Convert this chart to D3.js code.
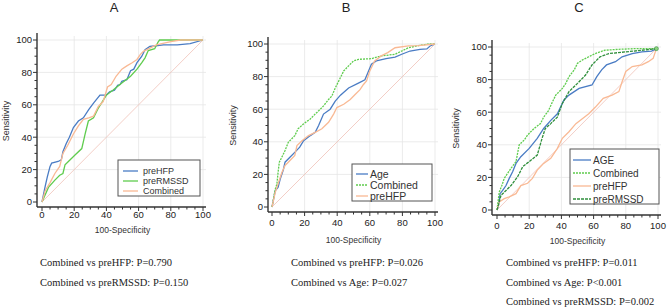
<!DOCTYPE html>
<html lang="en">
<head>
  <meta charset="UTF-8">
  <title>ROC curves A B C</title>
  <style>
  * { margin: 0; padding: 0; }
  body { background: #fff; }
  </style>
  <script src="https://cdnjs.cloudflare.com/ajax/libs/d3/7.8.5/d3.min.js"></script>
</head>
<body>
<svg width="669" height="308" id="svg1"></svg>
<script>
// axis ticks
const majorTicks = [0, 20, 40, 60, 80, 100];
const minorTicks = d3.range(0, 101, 5);

// panel A (100-Specificity, Sensitivity)
const aHFP = [[0,0],[1.9,9.3],[3.3,15.5],[5,22],[6,24],[10,25],[12,26],[13,31],[15,36],[17,40],[19.5,46],[22.6,50],[25.7,52],[29,57],[32,61],[36,66],[40,66],[42,68],[45,69],[47,72],[48.5,72.5],[49.6,74.5],[52.7,75.5],[55,81],[57,82],[59,86],[62,90],[64,94],[67,96],[75.5,97],[84,97],[92,97.7],[100,100]];
const aRMSSD = [[0,0],[4,9],[8,13.5],[11,16.5],[13,17.6],[14.3,23],[16.4,25],[20.5,29],[24.7,33],[26.8,42],[28.8,50],[32,52],[35,58],[40,66],[44,69],[49.6,73.5],[55,77.6],[59,82],[62,86],[64,89],[66,93.5],[70,94.6],[72,98.6],[73,100],[100,100]];
const aCombined = [[0,0],[2,7],[5,12],[8,17.6],[11,22],[13,30],[16,35],[19.5,42],[22.6,47],[25.7,51],[29,52],[32,53],[35,59],[38,62],[40.7,71],[43,72.5],[46,77.6],[49.6,82],[52.7,84],[56,86],[59,88],[61,91],[63,93],[67,95],[71,97],[80,99],[86,100],[100,100]];

// panel B
const bAge = [[0,0],[2,10],[3.7,12],[5,17],[7,23],[8,27.5],[11,30.5],[15,34.6],[17,36.7],[19.4,40.7],[23.5,43.8],[26.5,45.8],[28.6,50],[31.6,57],[35.7,60],[38.8,65],[42,68.6],[47,73],[53,76],[57,78],[61,87.6],[64,89.6],[70,91],[75.5,92],[79.6,93.7],[84.7,95.7],[90.8,96.7],[95,97],[97,98.8],[100,100]];
const bCombined = [[0,0],[2,11],[3,14],[3.7,21],[4.5,27.5],[6,30.5],[8,34.6],[10,39.7],[14,43.8],[16,48],[19.4,51],[23.5,54],[26.5,57],[28.6,59],[31.6,62],[34.7,66],[36.7,68],[38.8,73],[42,79.4],[44,83.5],[47,86.6],[50,89.6],[53,90.6],[61,91],[67,92.7],[75.5,93.7],[79.6,95.7],[83.7,97.7],[89.8,99],[96,100],[100,100]];
const bHFP = [[0,0],[2,9],[4,15],[6,21],[8,25.5],[10,27.5],[14,31.6],[15.3,37.7],[18.4,40.7],[22.4,43.8],[26.5,45.8],[30.6,48],[34.7,52],[37.8,57],[39.8,61],[44,63],[48,66],[51,69],[54,72],[56,75],[58,77.4],[60,83.5],[63,89.6],[67,92.7],[71,94.7],[75.5,97.7],[83.7,98.8],[89.8,99],[100,100]];

// panel C
const cAge = [[0,0],[1,3],[1.9,10],[3.5,12],[5.6,15],[7.6,19.4],[9.7,23.5],[11.8,28.6],[14.8,32.7],[20,37.8],[25,44],[29,50],[33.4,55],[37.5,59],[41.6,67.5],[44.7,70.5],[51,74.6],[59,76.7],[62,81.8],[65,86],[68,89],[73.6,91],[77.7,94],[84,96],[90,97],[96,97.5],[99,99]];
const cCombined = [[0,0],[1.4,11],[3,15],[4.5,19.4],[6.6,22.5],[8.7,25.6],[11.8,29.7],[13.8,40],[17,43],[19,46],[23,50],[27,53],[29,57],[32,61],[34,65.4],[36.5,70.5],[40.6,74.6],[42.7,77.7],[44.7,81.8],[48,86],[50,90],[53,92],[57,94],[61,96],[67,98],[75.7,98.6],[86,99],[99,99]];
const cHFP = [[0,0],[1.4,5],[4.5,7],[7.6,8],[11.8,10],[14.8,15],[19,16.4],[22,19.4],[25,24.5],[29,28.6],[33.4,31.7],[37.5,37.8],[40.6,44],[44.7,48],[49,53],[53,56],[57,59],[61,63],[66,68.5],[71.5,70.5],[75.7,72.6],[77.7,78.7],[80,85],[84,88],[90,89],[94,91],[97,93],[99,99]];
const cRMSSD = [[0,0],[2.5,9],[5.6,12],[8.7,15],[12.8,20.4],[16,26.6],[20,29.7],[25,33.7],[28,44],[30,50],[33.4,53],[37.5,57],[40.6,65.4],[44.7,72.6],[50,77.7],[55,82.8],[59,89],[64,94],[69.5,96],[80,97],[90,98],[99,99]];

// comparison texts under each panel
const aNotes = ["Combined vs preHFP: P=0.790", "Combined vs preRMSSD: P=0.150"];
const bNotes = ["Combined vs preHFP: P=0.026", "Combined vs Age: P=0.027"];
const cNotes = ["Combined vs preHFP: P=0.011", "Combined vs Age: P<0.001", "Combined vs preRMSSD: P=0.002"];

// line styles
const BLUE = "#4a7cc4", LGREEN = "#5fcc4e", ORANGE = "#f9b994", DGREEN = "#2f8f3c";

const svg = d3.select("#svg1");

const panels = [
  {
    title: "A", titleX: 114,
    x0: 42, x1: 203, y0: 202, y1: 40, axisX: 37, axisY: 207,
    tickY: 218, xTitleY: 233, yTitleX: 9,
    legend: { x: 118, y: 160, w: 82, h: 36, font: 9, lx0: 123, lx1: 138, tx: 143, rows: [171, 181, 191] },
    series: [
      { name: "preHFP", data: aHFP, color: BLUE },
      { name: "preRMSSD", data: aRMSSD, color: LGREEN },
      { name: "Combined", data: aCombined, color: ORANGE }
    ],
    notes: aNotes, noteX: 40
  },
  {
    title: "B", titleX: 346,
    x0: 272, x1: 435, y0: 207, y1: 44, axisX: 268, axisY: 212,
    tickY: 226, xTitleY: 243, yTitleX: 236,
    legend: { x: 352, y: 164, w: 80, h: 37, font: 10.5, lx0: 356, lx1: 368, tx: 370, rows: [174, 185, 196] },
    series: [
      { name: "Age", data: bAge, color: BLUE },
      { name: "Combined", data: bCombined, color: LGREEN, dash: "2,1" },
      { name: "preHFP", data: bHFP, color: ORANGE }
    ],
    notes: bNotes, noteX: 291
  },
  {
    title: "C", titleX: 579,
    x0: 497, x1: 658, y0: 210, y1: 47, axisX: 492, axisY: 215,
    tickY: 229, xTitleY: 244, yTitleX: 459,
    legend: { x: 570, y: 149, w: 89, h: 55, font: 10, lx0: 573, lx1: 591, tx: 593, rows: [160, 173, 186, 199] },
    series: [
      { name: "AGE", data: cAge, color: BLUE },
      { name: "Combined", data: cCombined, color: LGREEN, dash: "2,1" },
      { name: "preHFP", data: cHFP, color: ORANGE },
      { name: "preRMSSD", data: cRMSSD, color: DGREEN, dash: "3,1" }
    ],
    notes: cNotes, noteX: 506, endDot: true
  }
];

panels.forEach(drawPanel);

function drawPanel (p) {
  const g = svg.append("g");
  const x = d3.scaleLinear().domain([0, 100]).range([p.x0, p.x1]);
  const y = d3.scaleLinear().domain([0, 100]).range([p.y0, p.y1]);

  // grid
  g.append("g").selectAll("line").data(majorTicks.slice(1)).enter()
  .append("line")
  .attr("x1", d => x(d)).attr("x2", d => x(d))
  .attr("y1", p.axisY).attr("y2", y(100) - 4)
  .attr("stroke", "#e6e6e6").attr("stroke-width", 0.8);
  g.append("g").selectAll("line").data(majorTicks.slice(1)).enter()
  .append("line")
  .attr("x1", p.axisX).attr("x2", x(100) + 3)
  .attr("y1", d => y(d)).attr("y2", d => y(d))
  .attr("stroke", "#e6e6e6").attr("stroke-width", 0.8);

  // reference diagonal
  g.append("line")
  .attr("x1", x(0)).attr("y1", y(0)).attr("x2", x(100)).attr("y2", y(100))
  .attr("stroke", "#f0c2b8").attr("stroke-width", 0.8);

  // axes lines
  g.append("line")
  .attr("x1", p.axisX).attr("x2", p.axisX)
  .attr("y1", y(100) - 7).attr("y2", p.axisY)
  .attr("stroke", "#333").attr("stroke-width", 1.4);
  g.append("line")
  .attr("x1", p.axisX).attr("x2", x(100) + 3)
  .attr("y1", p.axisY).attr("y2", p.axisY)
  .attr("stroke", "#333").attr("stroke-width", 1.4);

  // ticks
  g.append("g").selectAll("line").data(minorTicks).enter()
  .append("line")
  .attr("x1", d => x(d)).attr("x2", d => x(d))
  .attr("y1", p.axisY).attr("y2", d => p.axisY + (d % 20 === 0 ? 4 : 2.5))
  .attr("stroke", "#333").attr("stroke-width", 1);
  g.append("g").selectAll("line").data(minorTicks).enter()
  .append("line")
  .attr("y1", d => y(d)).attr("y2", d => y(d))
  .attr("x1", p.axisX).attr("x2", d => p.axisX - (d % 20 === 0 ? 4 : 2.5))
  .attr("stroke", "#333").attr("stroke-width", 1);

  // tick labels
  g.append("g").selectAll("text").data(majorTicks).enter()
  .append("text")
  .attr("x", d => x(d)).attr("y", p.tickY)
  .attr("text-anchor", "middle")
  .attr("font-family", "Liberation Sans, Arial, sans-serif")
  .attr("font-size", 9.5).attr("fill", "#222")
  .text(d => d);
  g.append("g").selectAll("text").data(majorTicks).enter()
  .append("text")
  .attr("x", p.axisX - 5).attr("y", d => y(d) + 3.4)
  .attr("text-anchor", "end")
  .attr("font-family", "Liberation Sans, Arial, sans-serif")
  .attr("font-size", 9.5).attr("fill", "#222")
  .text(d => d);

  // axis titles
  g.append("text")
  .attr("x", (p.x0 + p.x1) / 2).attr("y", p.xTitleY)
  .attr("text-anchor", "middle")
  .attr("font-family", "Liberation Sans, Arial, sans-serif")
  .attr("font-size", 8.5).attr("fill", "#333")
  .text("100-Specificity");
  g.append("text")
  .attr("transform", `translate(${p.yTitleX},${(p.y0 + p.y1) / 2}) rotate(-90)`)
  .attr("text-anchor", "middle")
  .attr("font-family", "Liberation Sans, Arial, sans-serif")
  .attr("font-size", 9).attr("fill", "#333")
  .text("Sensitivity");

  // panel letter
  g.append("text")
  .attr("x", p.titleX).attr("y", 12)
  .attr("text-anchor", "middle")
  .attr("font-family", "Liberation Sans, Arial, sans-serif")
  .attr("font-size", 13).attr("fill", "#222")
  .text(p.title);

  // curves
  const line = d3.line().x(d => x(d[0])).y(d => y(d[1]));
  g.append("g").selectAll("path").data(p.series).enter()
  .append("path")
  .attr("d", d => line(d.data))
  .attr("fill", "none")
  .attr("stroke", d => d.color)
  .attr("stroke-width", 1.3)
  .attr("stroke-dasharray", d => d.dash || null);

  if (p.endDot) {
    g.append("circle")
    .attr("cx", x(99)).attr("cy", y(99)).attr("r", 2)
    .attr("fill", "#8fd47f").attr("stroke", DGREEN).attr("stroke-width", 0.6);
  }

  // legend
  const L = p.legend;
  g.append("rect")
  .attr("x", L.x).attr("y", L.y).attr("width", L.w).attr("height", L.h)
  .attr("fill", "#fff").attr("stroke", "#555").attr("stroke-width", 1);
  const items = g.append("g").selectAll("g").data(p.series).enter().append("g");
  items.append("line")
  .attr("x1", L.lx0).attr("x2", L.lx1)
  .attr("y1", (d, i) => L.rows[i]).attr("y2", (d, i) => L.rows[i])
  .attr("stroke", d => d.color).attr("stroke-width", 1.3)
  .attr("stroke-dasharray", d => d.dash || null);
  items.append("text")
  .attr("x", L.tx).attr("y", (d, i) => L.rows[i] + L.font * 0.36)
  .attr("font-family", "Liberation Sans, Arial, sans-serif")
  .attr("font-size", L.font).attr("fill", "#333")
  .text(d => d.name);

  // p value notes
  g.append("g").selectAll("text").data(p.notes).enter()
  .append("text")
  .attr("x", p.noteX).attr("y", (d, i) => 266 + i * 19.5)
  .attr("font-family", "Liberation Serif, Times New Roman, serif")
  .attr("font-size", 10.5).attr("fill", "#222")
  .text(d => d);
}
</script>
</body>
</html>
